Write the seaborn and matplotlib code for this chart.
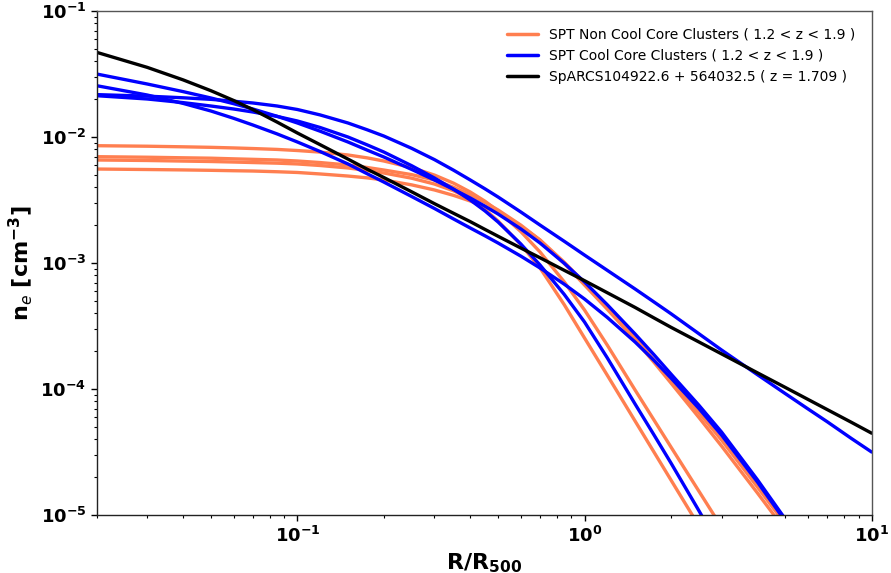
import matplotlib
matplotlib.use("Agg")
import matplotlib.pyplot as plt
import seaborn as sns
import pandas as pd

# radius grid (R/R500) at which values were read
R = [0.02, 0.03, 0.04, 0.05, 0.06, 0.07, 0.085, 0.1, 0.12, 0.15, 0.175, 0.2, 0.25, 0.3, 0.35,
     0.4, 0.45, 0.5, 0.6, 0.7, 0.85, 1.0, 1.2, 1.5, 1.75, 2.0, 2.5, 3.0, 4.0, 5.0, 6.0, 7.0, 8.5, 10.0]

# SPT non cool core clusters (n_e, cm^-3)
ncc_1 = [8.53e-3, 8.45e-3, 8.36e-3, 8.28e-3, 8.19e-3, 8.10e-3, 7.97e-3, 7.81e-3, 7.59e-3, 7.20e-3,
         6.83e-3, 6.45e-3, 5.71e-3, 4.99e-3, 4.30e-3, 3.66e-3, 3.094e-3, 2.587e-3, 1.775e-3, 1.223e-3,
         7.08e-4, 4.236e-4, 2.231e-4, 9.82e-5, 5.62e-5, 3.465e-5, 1.551e-5, 8.03e-6]
ncc_2 = [6.98e-3, 6.91e-3, 6.84e-3, 6.79e-3, 6.71e-3, 6.65e-3, 6.57e-3, 6.45e-3, 6.27e-3, 6.00e-3,
         5.73e-3, 5.47e-3, 5.03e-3, 4.56e-3, 3.99e-3, 3.465e-3, 3.027e-3, 2.634e-3, 1.999e-3, 1.522e-3,
         9.91e-4, 6.69e-4, 4.30e-4, 2.448e-4, 1.617e-4, 1.116e-4, 5.96e-5, 3.53e-5, 1.497e-5, 7.60e-6]
ncc_3 = [6.57e-3, 6.51e-3, 6.44e-3, 6.39e-3, 6.33e-3, 6.27e-3, 6.20e-3, 6.11e-3, 5.94e-3, 5.68e-3,
         5.42e-3, 5.18e-3, 4.71e-3, 4.236e-3, 3.741e-3, 3.221e-3, 2.663e-3, 2.154e-3, 1.402e-3, 9.13e-4,
         4.667e-4, 2.54e-4, 1.287e-4, 5.57e-5, 3.127e-5, 1.896e-5, 8.22e-6, 4.16e-6]
ncc_4 = [5.57e-3, 5.52e-3, 5.48e-3, 5.44e-3, 5.40e-3, 5.37e-3, 5.30e-3, 5.23e-3, 5.09e-3, 4.90e-3,
         4.74e-3, 4.56e-3, 4.17e-3, 3.80e-3, 3.44e-3, 3.105e-3, 2.798e-3, 2.493e-3, 1.960e-3, 1.522e-3,
         1.015e-3, 6.94e-4, 4.46e-4, 2.54e-4, 1.690e-4, 1.179e-4, 6.51e-5, 3.94e-5, 1.671e-5, 8.48e-6]

# SPT cool core clusters
cc_1 = [3.162e-2, 2.634e-2, 2.292e-2, 2.040e-2, 1.838e-2, 1.668e-2, 1.460e-2, 1.292e-2, 1.112e-2, 9.13e-3,
        7.87e-3, 6.94e-3, 5.53e-3, 4.56e-3, 3.838e-3, 3.28e-3, 2.823e-3, 2.448e-3, 1.865e-3, 1.441e-3,
        9.945e-4, 7.07e-4, 4.667e-4, 2.732e-4, 1.858e-4, 1.315e-4, 7.45e-5, 4.557e-5, 1.906e-5, 9.30e-6]
cc_2 = [2.554e-2, 2.154e-2, 1.848e-2, 1.608e-2, 1.407e-2, 1.245e-2, 1.058e-2, 9.13e-3, 7.67e-3, 6.11e-3,
        5.11e-3, 4.39e-3, 3.371e-3, 2.71e-3, 2.235e-3, 1.896e-3, 1.644e-3, 1.441e-3, 1.134e-3, 9.13e-4,
        6.79e-4, 5.18e-4, 3.701e-4, 2.36e-4, 1.677e-4, 1.223e-4, 7.03e-5, 4.31e-5, 1.828e-5, 8.96e-6]
cc_3 = [2.127e-2, 2.003e-2, 1.875e-2, 1.762e-2, 1.668e-2, 1.579e-2, 1.457e-2, 1.340e-2, 1.190e-2, 1.0e-2,
        8.66e-3, 7.60e-3, 5.92e-3, 4.73e-3, 3.852e-3, 3.162e-3, 2.591e-3, 2.115e-3, 1.415e-3, 9.64e-4,
        5.63e-4, 3.402e-4, 1.768e-4, 7.60e-5, 4.28e-5, 2.587e-5, 1.086e-5, 5.27e-6]
cc_4 = [2.17e-2, 2.11e-2, 2.048e-2, 1.99e-2, 1.923e-2, 1.862e-2, 1.762e-2, 1.653e-2, 1.497e-2, 1.292e-2,
        1.141e-2, 1.018e-2, 8.13e-3, 6.62e-3, 5.45e-3, 4.56e-3, 3.88e-3, 3.34e-3, 2.540e-3, 2.00e-3,
        1.487e-3, 1.156e-3, 8.75e-4, 6.22e-4, 4.886e-4, 3.96e-4, 2.75e-4, 2.04e-4, 1.30e-4, 9.20e-5,
        6.95e-5, 5.50e-5, 4.05e-5, 3.16e-5]

# SpARCS104922.6 + 564032.5
sparcs = [4.70e-2, 3.57e-2, 2.84e-2, 2.33e-2, 1.949e-2, 1.65e-2, 1.313e-2, 1.076e-2, 8.69e-3, 6.68e-3,
          5.55e-3, 4.77e-3, 3.674e-3, 2.96e-3, 2.480e-3, 2.13e-3, 1.848e-3, 1.63e-3, 1.315e-3, 1.10e-3,
          8.75e-4, 7.24e-4, 5.81e-4, 4.44e-4, 3.653e-4, 3.09e-4, 2.365e-4, 1.90e-4, 1.345e-4, 1.03e-4,
          8.27e-5, 6.87e-5, 5.44e-5, 4.46e-5]

lab_ncc = "SPT Non Cool Core Clusters ( 1.2 < z < 1.9 )"
lab_cc = "SPT Cool Core Clusters ( 1.2 < z < 1.9 )"
lab_sp = "SpARCS104922.6 + 564032.5 ( z = 1.709 )"

curves = [
    ("ncc1", lab_ncc, ncc_1), ("ncc2", lab_ncc, ncc_2),
    ("ncc3", lab_ncc, ncc_3), ("ncc4", lab_ncc, ncc_4),
    ("cc1", lab_cc, cc_1), ("cc2", lab_cc, cc_2),
    ("cc3", lab_cc, cc_3), ("cc4", lab_cc, cc_4),
    ("sp", lab_sp, sparcs),
]
rows = []
for name, grp, vals in curves:
    for r, v in zip(R, vals):
        rows.append({"R": r, "ne": v, "curve": name, "group": grp})
df = pd.DataFrame(rows)

sns.set_style("ticks")
plt.rcParams["font.family"] = ["DejaVu Sans"]
plt.rcParams["mathtext.default"] = "it"
for k in ["text.color", "axes.labelcolor", "xtick.color", "ytick.color"]:
    plt.rcParams[k] = "black"

fig = plt.figure(figsize=(8.91, 5.73), dpi=100)
ax = fig.add_axes([0.1085, 0.1012, 0.8698, 0.8796])

palette = {lab_ncc: "#FF7F50", lab_cc: "#0000FF", lab_sp: "#000000"}
sns.lineplot(data=df, x="R", y="ne", hue="group", units="curve", estimator=None,
             sort=False, palette=palette, hue_order=[lab_ncc, lab_cc, lab_sp],
             linewidth=2.4, ax=ax)

ax.set_xscale("log")
ax.set_yscale("log")
ax.set_xlim(0.02, 10)
ax.set_ylim(1e-5, 1e-1)

for name, s in ax.spines.items():
    s.set_visible(True)
    s.set_linewidth(1.0)
    s.set_color("#222222" if name in ("left", "bottom") else "#555555")

ax.tick_params(which="major", direction="out", length=4, width=1, labelsize=13)
ax.tick_params(which="minor", direction="out", length=2, width=0.8)
for lbl in ax.get_xticklabels() + ax.get_yticklabels():
    lbl.set_fontweight("bold")

ax.set_xlabel(r"R/R$_{\mathdefault{500}}$", fontsize=16, fontweight="bold")
ax.set_ylabel(r"n$_e$ [cm$^{\mathdefault{-3}}$]", fontsize=16, fontweight="bold")

leg = ax.legend(loc="upper right", frameon=False, fontsize=10, handlelength=2.2,
                borderaxespad=0.8)
for line in leg.get_lines():
    line.set_linewidth(2.5)

fig.savefig("out.png", dpi=100)
